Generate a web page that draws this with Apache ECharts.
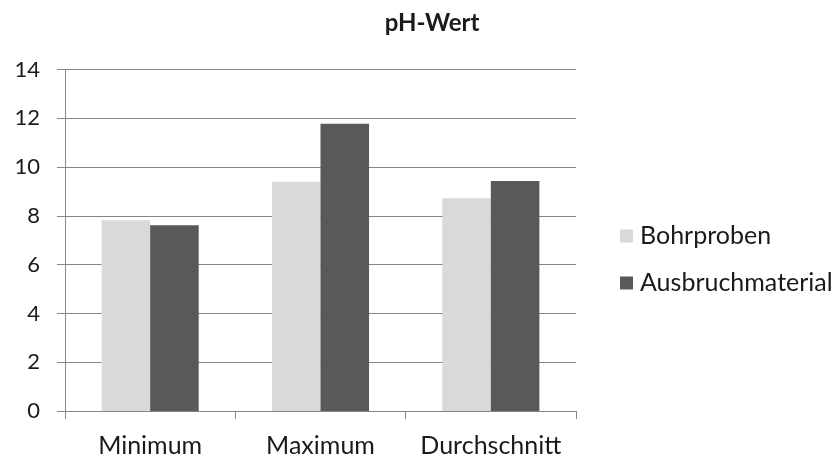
<!DOCTYPE html>
<html>
<head>
<meta charset="utf-8">
<script src="https://cdn.jsdelivr.net/npm/echarts@6/dist/echarts.min.js"></script>
<style>
  html, body { margin: 0; padding: 0; background: #fff; }
  #chart { width: 834px; height: 458px; }
</style>
</head>
<body>
<div id="chart"></div>
<script>
// pH values per statistic, for drill samples and excavated material
const categories = ['Minimum', 'Maximum', 'Durchschnitt'];
const seriesNames = ['Bohrproben', 'Ausbruchmaterial'];
const bohrproben = [7.82, 9.40, 8.72];
const ausbruchmaterial = [7.62, 11.78, 9.43];
const yTicks = [0, 2, 4, 6, 8, 10, 12, 14];

const fontFamily = 'Lato, "Open Sans", sans-serif';
const textColor = '#1a1a1a';
const axisGray = '#868686';

const chart = echarts.init(document.getElementById('chart'));
chart.setOption({
  backgroundColor: '#ffffff',
  animation: false,
  title: {
    text: 'pH-Wert',
    left: 427,
    textAlign: 'center',
    top: 6,
    textStyle: { fontFamily, fontSize: 24, fontWeight: 'bold', color: textColor }
  },
  legend: {
    orient: 'vertical',
    left: 620,
    top: 223,
    padding: 0,
    itemWidth: 13,
    itemHeight: 13,
    itemGap: 21,
    icon: 'rect',
    textStyle: { fontFamily, fontSize: 25, lineHeight: 26, color: textColor, padding: [0, 0, 0, 2] },
    data: seriesNames
  },
  grid: { left: 65, right: 258, top: 69.5, bottom: 46.5, containLabel: false },
  xAxis: {
    type: 'category',
    data: categories,
    axisLine: { lineStyle: { color: axisGray, width: 1 } },
    axisTick: { show: true, length: 8, lineStyle: { color: axisGray } },
    axisLabel: { interval: 0, fontFamily, fontSize: 25, color: textColor, margin: 22 }
  },
  yAxis: {
    type: 'value',
    min: yTicks[0],
    max: yTicks[yTicks.length - 1],
    interval: 2,
    axisLine: { show: true, lineStyle: { color: axisGray, width: 1 } },
    axisTick: { show: true, length: 8, lineStyle: { color: axisGray } },
    splitLine: { show: true, lineStyle: { color: axisGray, width: 1 } },
    axisLabel: { fontFamily, fontSize: 22, color: textColor, margin: 25 }
  },
  series: [
    {
      name: seriesNames[0],
      type: 'bar',
      data: bohrproben,
      itemStyle: { color: '#d9d9d9' },
      barGap: '0%',
      barCategoryGap: '43%'
    },
    {
      name: seriesNames[1],
      type: 'bar',
      data: ausbruchmaterial,
      itemStyle: { color: '#595959' },
      barGap: '0%',
      barCategoryGap: '43%'
    }
  ]
});
</script>
</body>
</html>
